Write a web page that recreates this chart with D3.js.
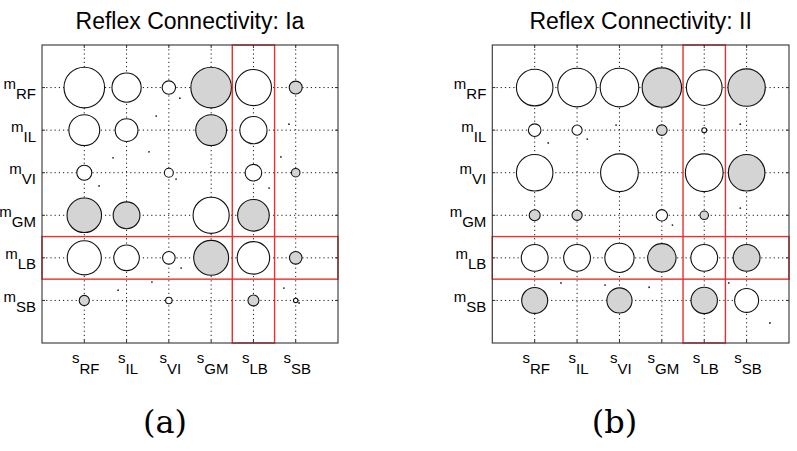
<!DOCTYPE html>
<html>
<head>
<meta charset="utf-8">
<script src="https://cdn.jsdelivr.net/npm/d3@7"></script>
<style>
    body { margin: 0; background: #fff; }
    text { font-family: "Liberation Sans", Arial, sans-serif; fill: #000; }
</style>
</head>
<body>
<div id="wrapper"></div>
<script>
// muscles (rows) and sensors (columns)
const rowNames = ["RF", "IL", "VI", "GM", "LB", "SB"];
const colNames = ["RF", "IL", "VI", "GM", "LB", "SB"];
const highlight = "LB";

const titles = ["Reflex Connectivity: Ia", "Reflex Connectivity: II"];
const tags = ["(a)", "(b)"];

// signed connection strength, negative = grey circle
const connIa = [
    [ 1.00,  0.72, 0.33, -1.00,  0.89, -0.32],
    [ 0.76,  0.56, 0.00, -0.76,  0.67,  0.00],
    [ 0.37,  0.00, 0.22,  0.00,  0.41, -0.21],
    [-0.85, -0.66, 0.00,  0.89, -0.78,  0.00],
    [ 0.84,  0.63, 0.31, -0.86,  0.80, -0.31],
    [-0.25,  0.00, 0.16,  0.00, -0.27,  0.11]
];
const connII = [
    [ 0.90,  0.95,  0.95, -0.97,  0.88, -0.92],
    [ 0.31,  0.25,  0.00, -0.26,  0.12,  0.00],
    [ 0.90,  0.00,  0.93,  0.00,  0.93, -0.90],
    [-0.27, -0.25,  0.00,  0.28, -0.21,  0.00],
    [ 0.66,  0.66,  0.72, -0.70,  0.66, -0.66],
    [-0.64,  0.00, -0.62,  0.00, -0.65,  0.59]
];

// stray tiny points, in cell units
const specksIa = [
    [3.26, 1.25], [2.70, 1.67], [2.53, 2.51], [1.68, 2.65], [5.84, 1.86],
    [5.65, 2.63], [1.35, 3.31], [3.17, 3.15], [5.37, 3.36], [3.29, 5.24],
    [2.60, 5.57], [1.80, 5.76], [5.72, 5.71], [6.08, 6.06]
];
const specksII = [
    [2.92, 1.88], [2.24, 2.21], [1.32, 2.30], [5.85, 1.86], [5.85, 3.83],
    [4.25, 4.23], [2.66, 5.64], [1.62, 5.59], [3.70, 5.69], [5.58, 5.59],
    [6.55, 6.53]
];

function build() {
    var dimension = {
        width: 797,
        height: 451,
        top: 45,
        boxHeight: 298,
        panels: [
            {left: 42, boxWidth: 296},
            {left: 492.3, boxWidth: 296.7}
        ]
    }

    const wrapper = d3.select("#wrapper")
        .append("svg")
        .attr("width", dimension.width)
        .attr("height", dimension.height)

    const sets = [
        {conn: connIa, specks: specksIa},
        {conn: connII, specks: specksII}
    ];

    sets.forEach((set, p) => {
        const panel = dimension.panels[p];
        const x = d3.scaleLinear().domain([0, 7]).range([panel.left, panel.left + panel.boxWidth]);
        const y = d3.scaleLinear().domain([0, 7]).range([dimension.top, dimension.top + dimension.boxHeight]);
        const r = d3.scaleLinear().domain([0, 1]).range([0, 20.3]);
        const g = wrapper.append("g");

        var cells = [];
        set.conn.forEach((row, i) => {
            row.forEach((v, j) => {
                cells.push({row: i + 1, col: j + 1, v: v});
            })
        })

        // dotted grid
        g.append("g")
            .selectAll("line")
            .data(d3.range(1, 7))
            .enter()
            .append("line")
            .attr("x1", x(0)).attr("x2", x(7))
            .attr("y1", d => y(d)).attr("y2", d => y(d))
            .attr("stroke", "#000").attr("stroke-width", 0.9)
            .attr("stroke-dasharray", "1.2,3");
        g.append("g")
            .selectAll("line")
            .data(d3.range(1, 7))
            .enter()
            .append("line")
            .attr("y1", y(0)).attr("y2", y(7))
            .attr("x1", d => x(d)).attr("x2", d => x(d))
            .attr("stroke", "#000").attr("stroke-width", 0.9)
            .attr("stroke-dasharray", "1.2,3");

        g.append("g")
            .selectAll("circle")
            .data(cells.filter(d => d.v != 0))
            .enter()
            .append("circle")
            .attr("cx", d => x(d.col))
            .attr("cy", d => y(d.row))
            .attr("r", d => r(Math.abs(d.v)))
            .attr("fill", d => d.v < 0 ? "#d4d4d4" : "#fff")
            .attr("stroke", "#111")
            .attr("stroke-width", 1.1);

        g.append("g")
            .selectAll("circle")
            .data(set.specks)
            .enter()
            .append("circle")
            .attr("cx", d => x(d[0]))
            .attr("cy", d => y(d[1]))
            .attr("r", 0.9)
            .attr("fill", "#222");

        // highlighted row and column
        const h = colNames.indexOf(highlight) + 1;
        g.append("rect")
            .attr("x", x(h - 0.5)).attr("y", y(0))
            .attr("width", x(h + 0.5) - x(h - 0.5)).attr("height", y(7) - y(0))
            .attr("fill", "none").attr("stroke", "#e8302c").attr("stroke-width", 1.4);
        const hr = rowNames.indexOf(highlight) + 1;
        g.append("rect")
            .attr("x", x(0)).attr("y", y(hr - 0.5))
            .attr("width", x(7) - x(0)).attr("height", y(hr + 0.5) - y(hr - 0.5))
            .attr("fill", "none").attr("stroke", "#e8302c").attr("stroke-width", 1.4);

        // box and ticks
        g.append("rect")
            .attr("x", x(0)).attr("y", y(0))
            .attr("width", x(7) - x(0)).attr("height", y(7) - y(0))
            .attr("fill", "none").attr("stroke", "#333").attr("stroke-width", 1.1);

        const tick = 3;
        const ticks = g.append("g").attr("stroke", "#333");
        d3.range(1, 7).forEach(t => {
            ticks.append("line").attr("x1", x(t)).attr("x2", x(t)).attr("y1", y(7)).attr("y2", y(7) - tick);
            ticks.append("line").attr("x1", x(t)).attr("x2", x(t)).attr("y1", y(0)).attr("y2", y(0) + tick);
            ticks.append("line").attr("y1", y(t)).attr("y2", y(t)).attr("x1", x(0)).attr("x2", x(0) + tick);
            ticks.append("line").attr("y1", y(t)).attr("y2", y(t)).attr("x1", x(7)).attr("x2", x(7) - tick);
        })

        // row labels m_xx
        const rowLab = g.append("g")
            .selectAll("text")
            .data(rowNames)
            .enter()
            .append("text")
            .attr("x", x(0) - 6)
            .attr("y", (d, i) => y(i + 1) + 1.5)
            .style("font-size", "15px")
            .style("text-anchor", "end");
        rowLab.append("tspan").text("m");
        rowLab.append("tspan").attr("dy", 10).text(d => d);

        // column labels s_xx
        const colLab = g.append("g")
            .selectAll("text")
            .data(colNames)
            .enter()
            .append("text")
            .attr("x", (d, i) => x(i + 1) + 1.5)
            .attr("y", 363)
            .style("font-size", "15px")
            .style("text-anchor", "middle");
        colLab.append("tspan").text("s");
        colLab.append("tspan").attr("dy", 10.5).text(d => d);

        g.append("text")
            .attr("x", (x(0) + x(7)) / 2)
            .attr("y", 29)
            .style("font-size", "23px")
            .style("text-anchor", "middle")
            .text(titles[p]);

        g.append("text")
            .attr("x", p == 0 ? 165 : 614.5)
            .attr("y", 433)
            .style("font-family", "'DejaVu Serif', 'Liberation Serif', serif")
            .style("font-size", "32px")
            .style("text-anchor", "middle")
            .text(tags[p]);
    })
}

build();
</script>
</body>
</html>
